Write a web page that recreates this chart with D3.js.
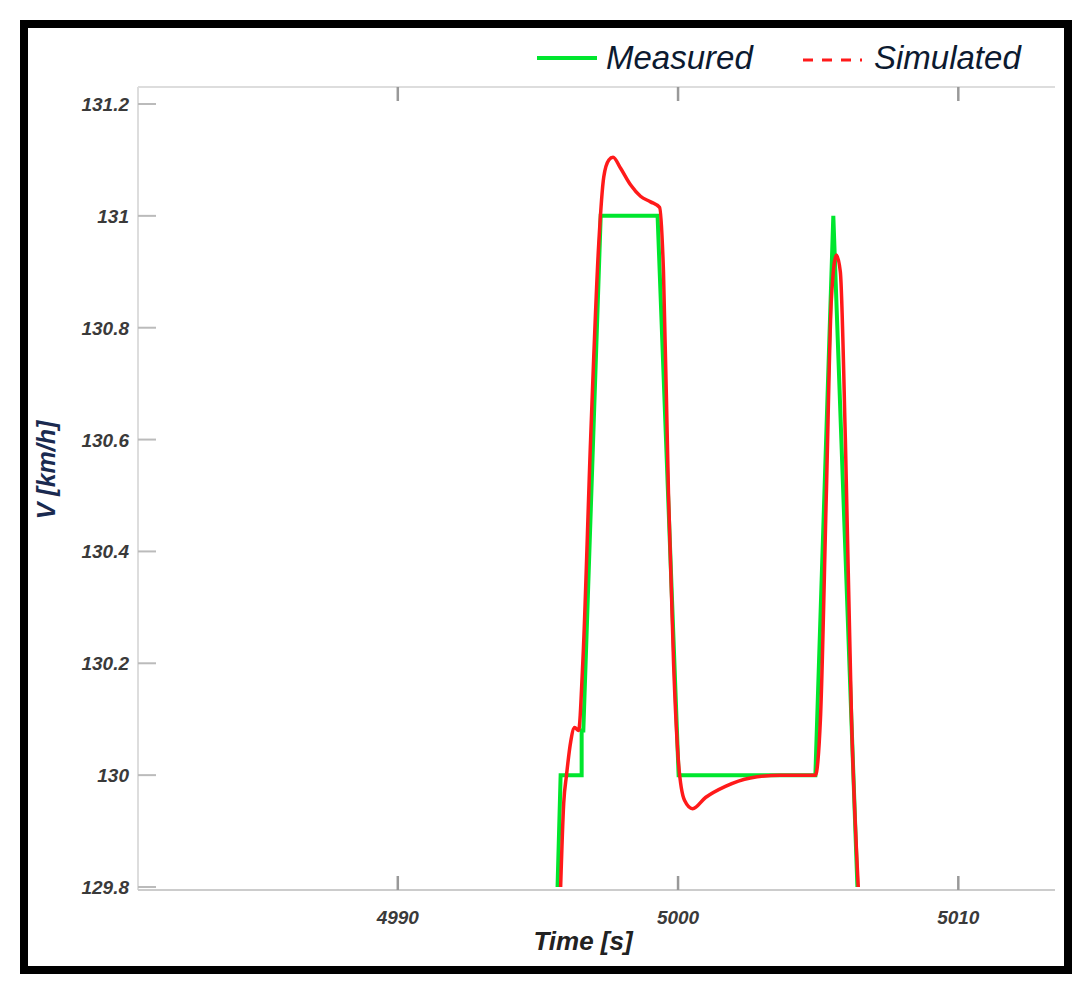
<!DOCTYPE html>
<html><head><meta charset="utf-8">
<script src="https://cdn.jsdelivr.net/npm/d3@7"></script>
<style>body{margin:0;background:#fff}</style>
</head><body><svg id="c" width="1092" height="1000"></svg>
<script>
const xTicks=[4990,5000,5010];
const yTicks=[129.8,130,130.2,130.4,130.6,130.8,131,131.2];
const measuredT=[4995.70,4995.81,4996.56,4996.56,4996.62,4997.24,4999.27,5000.02,5004.90,5005.54,5006.40];
const measuredV=[129.8,130.0,130.0,130.08,130.08,131.0,131.0,130.0,130.0,131.0,129.8];
const simT=[4995.81,4995.92,4996.02,4996.17,4996.31,4996.45,4996.60,4996.88,4997.17,4997.35,4997.53,4997.68,4997.95,4998.31,4998.66,4999.02,4999.34,4999.48,4999.66,4999.84,5000.02,5000.23,5000.52,5000.98,5001.69,5002.58,5003.65,5004.90,5005.08,5005.29,5005.47,5005.65,5005.79,5005.97,5006.19,5006.43];
const simV=[129.8,129.95,130.0,130.06,130.085,130.08,130.2,130.6,130.95,131.07,131.10,131.105,131.085,131.055,131.035,131.025,131.015,130.9,130.5,130.2,130.02,129.955,129.94,129.96,129.98,129.995,130.0,130.0,130.1,130.5,130.85,130.93,130.9,130.6,130.1,129.8];

const svg=d3.select("#c");
svg.append("rect").attr("x",24).attr("y",24).attr("width",1044).attr("height",946)
  .attr("fill","#fff").attr("stroke","#000").attr("stroke-width",8);
const L=138,R=1055,T=87,B=890;
const x=d3.scaleLinear().domain([4980.73,5013.45]).range([L,R]);
const y=d3.scaleLinear().domain([129.8,131.2]).range([887,104]);
const g=svg.append("g");
g.append("line").attr("x1",L).attr("x2",L).attr("y1",T).attr("y2",B).attr("stroke","#ddd").attr("stroke-width",2);
g.append("line").attr("x1",L).attr("x2",R).attr("y1",T).attr("y2",T).attr("stroke","#ddd").attr("stroke-width",2);
g.append("line").attr("x1",L).attr("x2",R).attr("y1",B).attr("y2",B).attr("stroke","#ccc").attr("stroke-width",2);
const font="'Liberation Sans',Arial,sans-serif";
yTicks.forEach(v=>{
  g.append("line").attr("x1",L).attr("x2",L+18).attr("y1",y(v)).attr("y2",y(v)).attr("stroke","#bbb").attr("stroke-width",2);
  g.append("text").attr("x",L-9).attr("y",y(v)+7).attr("text-anchor","end").attr("font-family",font)
   .attr("font-style","italic").attr("font-weight","bold").attr("font-size",19).attr("fill","#3a3a3a").text(String(v));
});
xTicks.forEach(t=>{
  g.append("line").attr("x1",x(t)).attr("x2",x(t)).attr("y1",B).attr("y2",B-14).attr("stroke","#999").attr("stroke-width",2.5);
  g.append("line").attr("x1",x(t)).attr("x2",x(t)).attr("y1",T).attr("y2",T+14).attr("stroke","#999").attr("stroke-width",2.5);
  g.append("text").attr("x",x(t)).attr("y",B+34).attr("text-anchor","middle").attr("font-family",font)
   .attr("font-style","italic").attr("font-weight","bold").attr("font-size",19).attr("fill","#3a3a3a").text(String(t));
});
svg.append("defs").append("clipPath").attr("id","cp").append("rect").attr("x",L).attr("y",T).attr("width",R-L).attr("height",B-T);
const pg=svg.append("g").attr("clip-path","url(#cp)");
const mData=measuredT.map((t,i)=>[t,measuredV[i]]);
const sData=simT.map((t,i)=>[t,simV[i]]);
pg.append("path").attr("d",d3.line().x(d=>x(d[0])).y(d=>y(d[1]))(mData))
  .attr("fill","none").attr("stroke","#00e62e").attr("stroke-width",4);
pg.append("path").attr("d",d3.line().x(d=>x(d[0])).y(d=>y(d[1])).curve(d3.curveMonotoneX)(sData))
  .attr("fill","none").attr("stroke","#ff1a1a").attr("stroke-width",3.5);
// legend
svg.append("line").attr("x1",537).attr("x2",597).attr("y1",58).attr("y2",58).attr("stroke","#00e62e").attr("stroke-width",4);
svg.append("text").attr("x",606).attr("y",69).attr("font-family",font).attr("font-style","italic").attr("font-size",33).attr("fill","#0c1a30").text("Measured");
svg.append("line").attr("x1",803).attr("x2",862).attr("y1",60).attr("y2",60).attr("stroke","#ff1a1a").attr("stroke-width",3).attr("stroke-dasharray","10,9");
svg.append("text").attr("x",874).attr("y",69).attr("font-family",font).attr("font-style","italic").attr("font-size",33).attr("fill","#0c1a30").text("Simulated");
// axis labels
svg.append("text").attr("transform","translate(55,470) rotate(-90)").attr("text-anchor","middle").attr("font-family",font)
  .attr("font-style","italic").attr("font-weight","bold").attr("font-size",25).attr("fill","#1a2a50").text("V [km/h]");
svg.append("text").attr("x",583).attr("y",950).attr("text-anchor","middle").attr("font-family",font)
  .attr("font-style","italic").attr("font-weight","bold").attr("font-size",26).attr("fill","#222").text("Time [s]");
</script></body></html>
